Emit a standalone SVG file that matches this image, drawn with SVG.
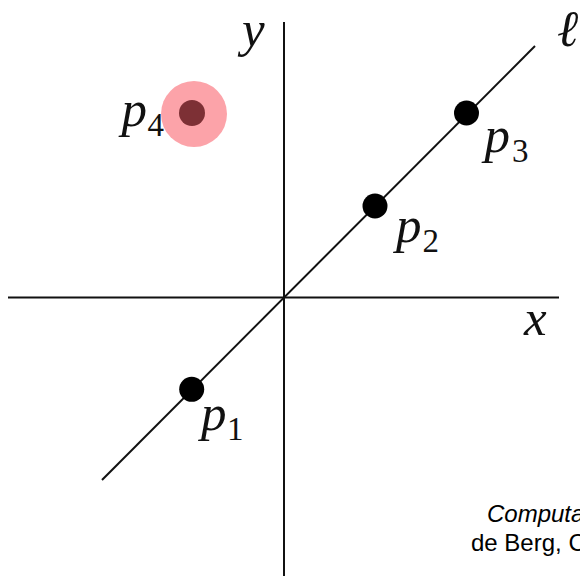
<svg xmlns="http://www.w3.org/2000/svg" width="580" height="576" viewBox="0 0 580 576">
  <style>
    .ax { stroke: #111; stroke-width: 2; fill: none; stroke-linecap: butt; }
    .math { font-family: "Liberation Serif", "Times New Roman", serif; font-style: italic; font-size: 51px; fill: #111; }
    .sub { font-family: "Liberation Serif", "Times New Roman", serif; font-style: normal; font-size: 33px; fill: #111; }
    .dot { fill: #000; }
    .cap { font-family: "Liberation Sans", Arial, sans-serif; font-size: 24px; fill: #000; }
  </style>
  <rect x="0" y="0" width="580" height="576" fill="#fff"/>
  <g id="connectors">
    <line class="ax" x1="284" y1="22" x2="284" y2="576"/>
    <line class="ax" x1="8" y1="297.5" x2="559" y2="297.5"/>
    <line class="ax" x1="102" y1="480" x2="535" y2="46"/>
  </g>
  <g id="axis-labels">
    <text class="math" x="242" y="46">y</text>
    <text class="math" x="524" y="335">x</text>
    <text class="math" x="557" y="46">ℓ</text>
  </g>
  <g id="p1">
    <circle class="dot" cx="191.7" cy="389.3" r="12.5"/>
    <text class="math" x="201" y="430">p</text>
    <text class="sub" x="227" y="440">1</text>
  </g>
  <g id="p2">
    <circle class="dot" cx="375" cy="206" r="12.5"/>
    <text class="math" x="396" y="242">p</text>
    <text class="sub" x="422.5" y="252">2</text>
  </g>
  <g id="p3">
    <circle class="dot" cx="466.5" cy="113" r="12.5"/>
    <text class="math" x="484.5" y="152">p</text>
    <text class="sub" x="512" y="162">3</text>
  </g>
  <g id="p4">
    <text class="math" x="121.5" y="126">p</text>
    <text class="sub" x="147.5" y="136">4</text>
    <circle cx="194" cy="114" r="33" fill="#fca3a9"/>
    <circle cx="192" cy="113" r="13" fill="#7d3035"/>
  </g>
  <g id="caption">
    <text class="cap" x="487" y="522" font-style="italic">Computa</text>
    <text class="cap" x="471" y="551">de Berg, C</text>
  </g>
</svg>
